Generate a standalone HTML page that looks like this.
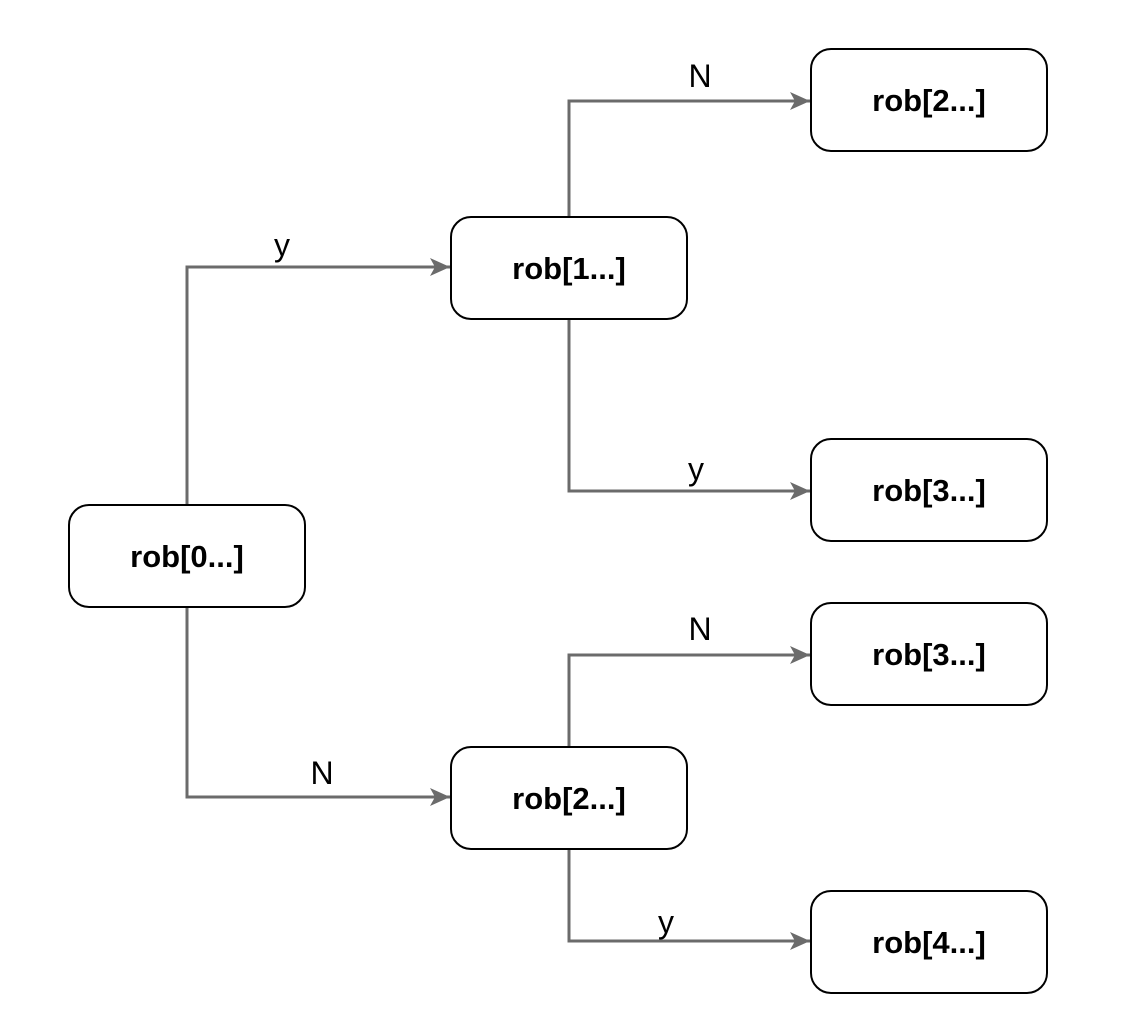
<!DOCTYPE html>
<html><head><style>body{margin:0;background:#fff}</style></head><body>
<svg width="1130" height="1034" xmlns="http://www.w3.org/2000/svg" style="display:block">
<defs>
<marker id="b" viewBox="0 0 20 20" markerWidth="20" markerHeight="20" refX="20" refY="10" orient="auto" markerUnits="userSpaceOnUse"><path d="M0,1 L20,10 L0,19 L5,10z" fill="#6b6b6b"/></marker></defs>
<g fill="none" stroke="#6b6b6b" stroke-width="3" marker-end="url(#b)">
<path d="M187,505 V267 H450"/>
<path d="M187,607 V797 H450"/>
<path d="M569,217 V101 H810"/>
<path d="M569,319 V491 H810"/>
<path d="M569,747 V655 H810"/>
<path d="M569,849 V941 H810"/>
</g>
<g fill="#fff" stroke="#000" stroke-width="2">
<rect x="69" y="505" width="236" height="102" rx="20"/>
<rect x="451" y="217" width="236" height="102" rx="20"/>
<rect x="451" y="747" width="236" height="102" rx="20"/>
<rect x="811" y="49" width="236" height="102" rx="20"/>
<rect x="811" y="439" width="236" height="102" rx="20"/>
<rect x="811" y="603" width="236" height="102" rx="20"/>
<rect x="811" y="891" width="236" height="102" rx="20"/>
</g>
<g font-family="'Liberation Sans',sans-serif" font-size="31" font-weight="bold" text-anchor="middle" fill="#000">
<text x="187" y="567">rob[0...]</text>
<text x="569" y="279">rob[1...]</text>
<text x="569" y="809">rob[2...]</text>
<text x="929" y="111">rob[2...]</text>
<text x="929" y="501">rob[3...]</text>
<text x="929" y="665">rob[3...]</text>
<text x="929" y="953">rob[4...]</text>
</g>
<g font-family="'Liberation Sans',sans-serif" font-size="32" text-anchor="middle" fill="#000">
<text x="282" y="256">y</text>
<text x="700" y="87">N</text>
<text x="696" y="480">y</text>
<text x="700" y="640">N</text>
<text x="322" y="784">N</text>
<text x="666" y="933">y</text>
</g>
</svg>
</body></html>
